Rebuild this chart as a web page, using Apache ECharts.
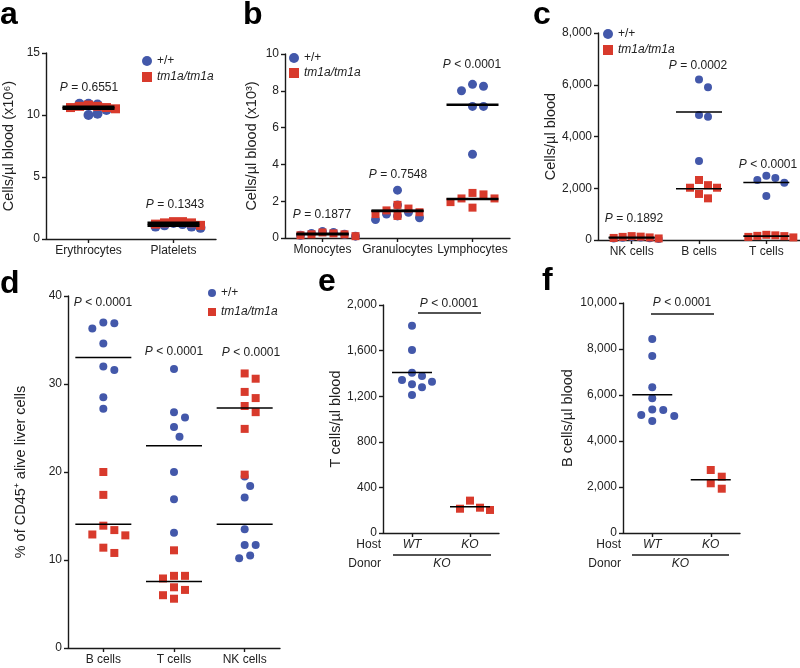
<!DOCTYPE html>
<html>
<head>
<meta charset="utf-8">
<script src="https://cdn.jsdelivr.net/npm/echarts@6/dist/echarts.min.js"></script>
<style>
html, body { margin: 0; padding: 0; background: #fff; }
#chart { width: 800px; height: 668px; }
</style>
</head>
<body>
<div id="chart"></div>
<script>
// ---- data ----
// a: blood counts (x10^6 / x10^3)
const aCategories = ['Erythrocytes', 'Platelets'];
const aWildType = [[10.9, 10.85, 10.9, 10.4, 10.0, 10.1], [1.3, 1.2, 1.1, 1.0, 1.0, 0.9]];
const aMutant = [[10.8, 10.7, 10.7, 10.6, 10.6, 10.5], [1.4, 1.4, 1.3, 1.3, 1.2, 1.1]];
const aPValues = ['= 0.6551', '= 0.1343'];
const aTicks = [0, 5, 10, 15];

// b: white cells (x10^3)
const bCategories = ['Monocytes', 'Granulocytes', 'Lymphocytes'];
const bWildType = [[0.35, 0.3, 0.25, 0.2, 0.15, 0.1], [2.6, 1.8, 1.4, 1.3, 1.2, 1.1, 1.0], [8.35, 8.25, 8.0, 7.15, 7.15, 4.55]];
const bMutant = [[0.3, 0.25, 0.2, 0.2, 0.15, 0.1], [1.8, 1.6, 1.5, 1.4, 1.3, 1.2], [2.45, 2.37, 2.15, 2.15, 1.95, 1.65]];
const bPValues = ['= 0.1877', '= 0.7548', '< 0.0001'];
const bTicks = [0, 2, 4, 6, 8, 10];

// c: lymphocyte subsets per µl
const cCategories = ['NK cells', 'B cells', 'T cells'];
const cWildType = [[120, 100, 90, 70, 60, 40], [6200, 5900, 4830, 4760, 3050], [2480, 2400, 2320, 2210, 1700]];
const cMutant = [[150, 130, 120, 100, 80, 60], [2320, 2120, 2020, 2020, 1780, 1610], [200, 180, 160, 150, 120, 100]];
const cPValues = ['= 0.1892', '= 0.0002', '< 0.0001'];
const cTicks = [0, 2000, 4000, 6000, 8000];

// d: % of CD45+ alive liver cells
const dCategories = ['B cells', 'T cells', 'NK cells'];
const dWildType = [[37.0, 36.9, 36.3, 34.6, 32.0, 31.6, 28.5, 27.2], [31.7, 26.8, 26.2, 25.1, 24.0, 20.0, 16.9, 13.1], [19.5, 18.4, 17.1, 13.5, 11.7, 11.7, 10.5, 10.2]];
const dMutant = [[20.0, 17.4, 13.9, 13.4, 12.9, 12.8, 11.4, 10.8], [11.1, 8.2, 8.2, 7.9, 6.9, 6.6, 6.0, 5.6], [31.2, 30.6, 29.1, 28.4, 27.5, 26.8, 24.9, 19.7]];
const dPValues = ['< 0.0001', '< 0.0001', '< 0.0001'];
const dTicks = [0, 10, 20, 30, 40];

// e: T cells after transfer (host WT / KO, donor KO)
const eCategories = ['WT', 'KO'];
const eWildType = [[1819, 1605, 1406, 1377, 1342, 1327, 1304, 1278, 1211], []];
const eMutant = [[], [284, 222, 213, 202]];
const ePValues = ['< 0.0001'];
const eTicks = [0, 400, 800, 1200, 1600, 2000];

// f: B cells after transfer
const fCategories = ['WT', 'KO'];
const fWildType = [[8435, 7696, 6335, 5857, 5370, 5348, 5130, 5087, 4870], []];
const fMutant = [[], [2739, 2448, 2161, 1926]];
const fPValues = ['< 0.0001'];
const fTicks = [0, 2000, 4000, 6000, 8000, 10000];

// ---- style ----
const BLUE = '#4358aa';
const RED = '#d83a2c';
const INK = '#1a1a1a';
const FONT = "'Liberation Sans', Arial, Helvetica, sans-serif";

const panels = [
  { letter: 'a', lx: 0, ly: 31, cats: aCategories, wt: aWildType, ko: aMutant, p: aPValues, ticks: aTicks,
    yName: 'Cells/µl blood (x10⁶)', grid: { left: 46, top: 53, width: 170, height: 186 }, nameGap: 30, spread: 9,
    dot: 10, sq: 9, half: 26, lw: 3, pPos: [[89, 88], [175, 205]], legend: { left: 142, top: 54, size: 10, gap: 2 } },
  { letter: 'b', lx: 243, ly: 31, cats: bCategories, wt: bWildType, ko: bMutant, p: bPValues, ticks: bTicks,
    yName: 'Cells/µl blood (x10³)', grid: { left: 285, top: 54, width: 225, height: 184 }, nameGap: 26, spread: 11,
    dot: 9, sq: 8, half: 26, lw: 2.5, pPos: [[322, 215], [398, 175], [472, 65]], legend: { left: 289, top: 51, size: 10, gap: 1 } },
  { letter: 'c', lx: 533, ly: 31, cats: cCategories, wt: cWildType, ko: cMutant, p: cPValues, ticks: cTicks,
    yName: 'Cells/µl blood', grid: { left: 598, top: 33, width: 202, height: 207 }, nameGap: 40, fmt: true, spread: 9,
    dot: 8, sq: 8, half: 23, lw: 1.6, pPos: [[634, 219], [698, 66], [768, 165]], legend: { left: 603, top: 27, size: 10, gap: 2 } },
  { letter: 'd', lx: 0, ly: 300, cats: dCategories, wt: dWildType, ko: dMutant, p: dPValues, ticks: dTicks,
    yName: '% of CD45⁺ alive liver cells', grid: { left: 68, top: 296, width: 212, height: 352 }, nameGap: 40, spread: 11,
    dot: 8, sq: 8, half: 28, lw: 1.5, pPos: [[103, 303], [174, 352], [251, 353]], legend: { left: 208, top: 286, size: 8, gap: 5 } },
  { letter: 'e', lx: 318, ly: 298, cats: eCategories, wt: eWildType, ko: eMutant, p: ePValues, ticks: eTicks,
    yName: 'T cells/µl blood', grid: { left: 383, top: 305, width: 116, height: 228 }, nameGap: 40, fmt: true, italicX: true, spread: 10,
    dot: 8, sq: 8, half: 20, lw: 1.5, pPos: [[449, 304]], bar: [418, 481, 313], host: [381, 393, 491] },
  { letter: 'f', lx: 542, ly: 297, cats: fCategories, wt: fWildType, ko: fMutant, p: fPValues, ticks: fTicks,
    yName: 'B cells/µl blood', grid: { left: 623, top: 303, width: 117, height: 230 }, nameGap: 48, fmt: true, italicX: true, spread: 11,
    dot: 8, sq: 8, half: 20, lw: 1.5, pPos: [[682, 303]], bar: [651, 714, 314], host: [621, 632, 729] }
];

// beeswarm per data set: push a point sideways until it is minDist (px) from the ones already placed
function swarm(values, pxPerUnit, minDist) {
  const placed = [];
  const step = minDist / 2;
  return values.map(v => {
    const y = v * pxPerUnit;
    for (let k = 0; k < 200; k++) {
      const off = (k % 2 ? 1 : -1) * Math.ceil(k / 2) * step;
      if (placed.every(o => Math.hypot(o.x - off, o.y - y) >= minDist - 0.01)) {
        placed.push({ x: off, y });
        return off;
      }
    }
    return 0;
  });
}

const mean = arr => arr.reduce((s, v) => s + v, 0) / arr.length;
const thousands = v => v.toLocaleString('en-US');

const option = {
  animation: false,
  backgroundColor: '#fff',
  textStyle: { fontFamily: FONT },
  grid: [], xAxis: [], yAxis: [], series: [], legend: [], graphic: []
};

const axisLine = { show: true, onZero: false, lineStyle: { color: INK, width: 1.4 } };
const axisTick = { show: true, length: 4, lineStyle: { color: INK, width: 1.4 } };
const labelStyle = { color: '#222', fontSize: 12, fontFamily: FONT };

panels.forEach((pn, i) => {
  const n = pn.cats.length;
  const yMin = pn.ticks[0];
  const yMax = pn.ticks[pn.ticks.length - 1];

  option.grid.push(Object.assign({}, pn.grid));
  option.xAxis.push({
    gridIndex: i, type: 'category', data: pn.cats,
    axisLine, axisTick: Object.assign({ alignWithLabel: true, interval: 0 }, axisTick),
    axisLabel: Object.assign({ interval: 0, margin: 6, fontStyle: pn.italicX ? 'italic' : 'normal' }, labelStyle),
    splitLine: { show: false }
  });
  option.xAxis.push({ gridIndex: i, type: 'value', min: -0.5, max: n - 0.5, show: false });
  option.yAxis.push({
    gridIndex: i, type: 'value', min: yMin, max: yMax, interval: pn.ticks[1] - pn.ticks[0],
    axisLine, axisTick,
    axisLabel: Object.assign({ margin: 6, formatter: pn.fmt ? thousands : null }, labelStyle),
    splitLine: { show: false },
    name: pn.yName, nameLocation: 'middle', nameGap: pn.nameGap, nameRotate: 90,
    nameTextStyle: { color: '#222', fontSize: 14.5, fontFamily: FONT }
  });

  const pxPerUnit = pn.grid.height / (yMax - yMin);
  const band = pn.grid.width / n;
  const toPoints = (groups) => {
    const out = [];
    groups.forEach((vals, ci) => {
      const offs = swarm(vals, pxPerUnit, pn.spread);
      vals.forEach((v, k) => out.push([ci + offs[k] / band, v]));
    });
    return out;
  };
  const means = [];
  pn.cats.forEach((c, ci) => {
    if (pn.wt[ci].length) means.push([ci, mean(pn.wt[ci])]);
    if (pn.ko[ci].length) means.push([ci, mean(pn.ko[ci])]);
  });

  option.series.push({
    name: '+/+', type: 'scatter', xAxisIndex: 2 * i + 1, yAxisIndex: i, data: toPoints(pn.wt),
    symbol: 'circle', symbolSize: pn.dot, itemStyle: { color: BLUE, opacity: 1 }, z: 2
  });
  option.series.push({
    name: 'tm1a/tm1a', type: 'scatter', xAxisIndex: 2 * i + 1, yAxisIndex: i, data: toPoints(pn.ko),
    symbol: 'rect', symbolSize: pn.sq, itemStyle: { color: RED, opacity: 1 }, z: 2
  });
  option.series.push({
    type: 'custom', xAxisIndex: 2 * i + 1, yAxisIndex: i, data: means, z: 5, silent: true,
    renderItem: (params, api) => {
      const pt = api.coord([api.value(0), api.value(1)]);
      return {
        type: 'line',
        shape: { x1: pt[0] - pn.half, y1: pt[1], x2: pt[0] + pn.half, y2: pt[1] },
        style: { stroke: '#000', lineWidth: pn.lw }
      };
    }
  });

  if (pn.legend) {
    const lg = pn.legend;
    option.legend.push({
      orient: 'vertical', left: lg.left, top: lg.top, padding: 0,
      itemWidth: lg.size, itemHeight: lg.size, itemGap: lg.gap, selectedMode: false,
      data: [{ name: '+/+', icon: 'circle' }, { name: 'tm1a/tm1a', icon: 'rect' }],
      formatter: name => (name === 'tm1a/tm1a' ? '{i|' + name + '}' : name),
      textStyle: {
        color: '#222', fontSize: 12, fontFamily: FONT, lineHeight: 14,
        rich: { i: { fontStyle: 'italic', fontSize: 12, fontFamily: FONT, color: '#222' } }
      }
    });
  }

  // panel letter
  option.graphic.push({
    type: 'text', x: pn.lx, y: pn.ly,
    style: { text: pn.letter, fill: '#000', font: 'bold 32px ' + FONT, verticalAlign: 'bottom' }
  });

  // P values
  pn.p.forEach((txt, k) => {
    option.graphic.push({
      type: 'text', x: pn.pPos[k][0], y: pn.pPos[k][1],
      style: {
        text: '{i|P} ' + txt, fill: '#222', fontSize: 12, fontFamily: FONT,
        align: 'center', verticalAlign: 'middle',
        rich: { i: { fontStyle: 'italic', fontSize: 12, fontFamily: FONT, fill: '#222' } }
      }
    });
  });

  if (pn.bar) {
    option.graphic.push({
      type: 'line', shape: { x1: pn.bar[0], y1: pn.bar[2], x2: pn.bar[1], y2: pn.bar[2] },
      style: { stroke: INK, lineWidth: 1.4 }
    });
  }
  if (pn.host) {
    const [rx, x1, x2] = pn.host;
    option.graphic.push(
      { type: 'text', x: rx, y: 545, style: { text: 'Host', fill: '#222', fontSize: 12, fontFamily: FONT, align: 'right', verticalAlign: 'middle' } },
      { type: 'text', x: rx, y: 564, style: { text: 'Donor', fill: '#222', fontSize: 12, fontFamily: FONT, align: 'right', verticalAlign: 'middle' } },
      { type: 'line', shape: { x1, y1: 555, x2, y2: 555 }, style: { stroke: INK, lineWidth: 1.4 } },
      { type: 'text', x: (x1 + x2) / 2, y: 564, style: { text: 'KO', fill: '#222', fontSize: 12, fontStyle: 'italic', fontFamily: FONT, align: 'center', verticalAlign: 'middle' } }
    );
  }
});

const chart = echarts.init(document.getElementById('chart'), null, { renderer: 'canvas' });
chart.setOption(option);
window.addEventListener('resize', () => chart.resize());
</script>
</body>
</html>
